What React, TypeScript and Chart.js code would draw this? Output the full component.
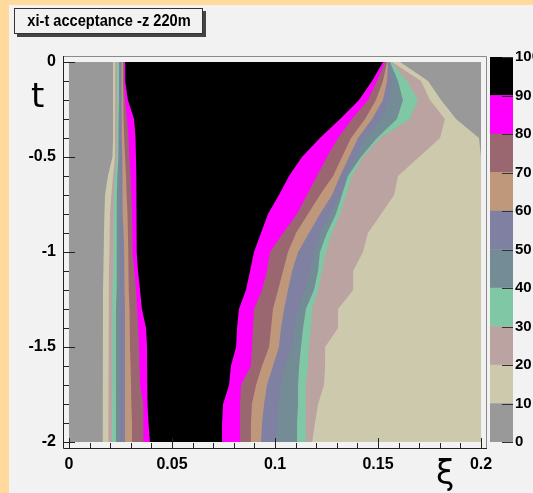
import React, { useEffect, useRef } from 'react';
import { Chart, registerables } from 'chart.js';
Chart.register(...registerables);

// ---- data ----
const tGrid = [0, -0.1, -0.2, -0.3, -0.4, -0.5, -0.6, -0.7, -0.8, -0.9, -1.0, -1.1, -1.2, -1.3, -1.4, -1.5, -1.6, -1.7, -1.8, -1.9, -2.0];

// contour levels (lower edge of each colour band) and palette
const levels = [0, 10, 20, 30, 40, 50, 60, 70, 80, 90];
const levelColors = ['#999999', '#ccc9ac', '#baa3a0', '#7fc7a5', '#738c96', '#8080a2', '#bf987b', '#9a6670', '#ff00ff', '#000000'];
const paletteTicks = [0, 10, 20, 30, 40, 50, 60, 70, 80, 90, 100];

// left / right xi boundary of the region where acceptance >= level, per t in tGrid
const left10 = [0.0214, 0.0214, 0.0214, 0.0214, 0.0214, 0.0211, 0.0189, 0.0175, 0.0172, 0.0170, 0.0167, 0.0167, 0.0165, 0.0164, 0.0164, 0.0164, 0.0164, 0.0164, 0.0164, 0.0164, 0.0164];
const right10 = [0.1607, 0.1743, 0.1806, 0.1879, 0.1990, 0.2, 0.2, 0.2, 0.2, 0.2, 0.2, 0.2, 0.2, 0.2, 0.2, 0.2, 0.2, 0.2, 0.2, 0.2, 0.2];
const left20 = [0.0223, 0.0223, 0.0223, 0.0223, 0.0223, 0.0223, 0.0214, 0.0206, 0.0199, 0.0197, 0.0196, 0.0194, 0.0192, 0.0191, 0.0191, 0.0191, 0.0191, 0.0191, 0.0191, 0.0191, 0.0191];
const right20 = [0.1568, 0.1709, 0.1752, 0.1825, 0.1801, 0.1699, 0.1597, 0.1578, 0.1515, 0.1451, 0.1427, 0.1379, 0.1379, 0.1306, 0.1306, 0.1243, 0.1243, 0.1238, 0.1209, 0.1194, 0.1180];
const left30 = [0.0233, 0.0233, 0.0233, 0.0233, 0.0233, 0.0232, 0.0223, 0.0218, 0.0216, 0.0215, 0.0215, 0.0214, 0.0211, 0.0209, 0.0209, 0.0209, 0.0209, 0.0209, 0.0209, 0.0209, 0.0209];
const right30 = [0.1563, 0.1641, 0.1694, 0.1655, 0.1510, 0.1427, 0.1374, 0.1345, 0.1316, 0.1277, 0.1248, 0.1228, 0.1209, 0.1180, 0.1175, 0.1165, 0.1160, 0.1150, 0.1150, 0.1146, 0.1146];
const left40 = [0.0243, 0.0243, 0.0243, 0.0241, 0.0240, 0.0239, 0.0235, 0.0232, 0.0232, 0.0232, 0.0232, 0.0231, 0.0230, 0.0228, 0.0228, 0.0228, 0.0228, 0.0228, 0.0228, 0.0228, 0.0228];
const right40 = [0.1558, 0.1597, 0.1621, 0.1592, 0.1495, 0.1417, 0.1354, 0.1325, 0.1296, 0.1252, 0.1218, 0.1209, 0.1189, 0.1150, 0.1136, 0.1126, 0.1117, 0.1112, 0.1112, 0.1107, 0.1107];
const left50 = [0.0248, 0.0248, 0.0248, 0.0248, 0.0248, 0.0248, 0.0248, 0.0248, 0.0248, 0.0248, 0.0248, 0.0248, 0.0248, 0.0248, 0.0248, 0.0248, 0.0248, 0.0248, 0.0248, 0.0248, 0.0248];
const right50 = [0.1553, 0.1568, 0.1553, 0.1515, 0.1437, 0.1393, 0.1345, 0.1320, 0.1267, 0.1218, 0.1189, 0.1170, 0.1146, 0.1112, 0.1092, 0.1083, 0.1049, 0.1029, 0.1015, 0.1010, 0.1005];
const left60 = [0.0255, 0.0255, 0.0256, 0.0257, 0.0257, 0.0259, 0.0259, 0.0260, 0.0262, 0.0265, 0.0268, 0.0269, 0.0270, 0.0272, 0.0272, 0.0272, 0.0272, 0.0272, 0.0272, 0.0272, 0.0272];
const right60 = [0.1549, 0.1544, 0.1524, 0.1471, 0.1403, 0.1359, 0.1316, 0.1277, 0.1218, 0.1165, 0.1112, 0.1083, 0.1063, 0.1044, 0.1029, 0.1019, 0.0990, 0.0961, 0.0947, 0.0937, 0.0932];
const left70 = [0.0262, 0.0262, 0.0264, 0.0265, 0.0268, 0.0272, 0.0277, 0.0280, 0.0284, 0.0286, 0.0288, 0.0289, 0.0291, 0.0294, 0.0296, 0.0296, 0.0299, 0.0301, 0.0303, 0.0306, 0.0306];
const right70 = [0.1544, 0.1524, 0.1490, 0.1437, 0.1369, 0.1325, 0.1282, 0.1218, 0.1160, 0.1102, 0.1063, 0.1039, 0.1015, 0.0990, 0.0981, 0.0971, 0.0937, 0.0908, 0.0888, 0.0883, 0.0883];
const left80 = [0.0267, 0.0267, 0.0272, 0.0282, 0.0289, 0.0293, 0.0299, 0.0303, 0.0306, 0.0308, 0.0309, 0.0317, 0.0325, 0.0330, 0.0336, 0.0340, 0.0342, 0.0345, 0.0361, 0.0361, 0.0361];
const right80 = [0.1534, 0.1495, 0.1451, 0.1374, 0.1306, 0.1252, 0.1204, 0.1155, 0.1107, 0.1039, 0.0976, 0.0961, 0.0937, 0.0898, 0.0893, 0.0888, 0.0883, 0.0835, 0.0830, 0.0830, 0.0830];
const left90 = [0.0273, 0.0273, 0.0286, 0.0316, 0.0323, 0.0325, 0.0327, 0.0328, 0.0329, 0.0329, 0.0329, 0.0335, 0.0345, 0.0354, 0.0374, 0.0379, 0.0379, 0.0381, 0.0383, 0.0386, 0.0393];
const right90 = [0.1524, 0.1471, 0.1408, 0.1316, 0.1218, 0.1131, 0.1068, 0.1019, 0.0966, 0.0932, 0.0898, 0.0879, 0.0859, 0.0825, 0.0816, 0.0811, 0.0786, 0.0777, 0.0748, 0.0743, 0.0743];

const leftBounds = [left10, left20, left30, left40, left50, left60, left70, left80, left90];
const rightBounds = [right10, right20, right30, right40, right50, right60, right70, right80, right90];

// histogram range and axis ticks
const xiRange = [0, 0.2];
const tRange = [-2, 0];
const xMajorTicks = [0, 0.05, 0.1, 0.15, 0.2];
const xMinorStep = 0.01;
const yMajorTicks = [0, -0.5, -1, -1.5, -2];
const yMinorStep = 0.1;

const titleText = 'xi-t acceptance -z 220m';
const xTitle = 'ξ';
const yTitle = 't';

// ---- style ----
const ORANGE = '#ffda9c';
const PAD = '#f2f2f2';
const NARROW = "'Liberation Sans Narrow', 'Arial Narrow', 'Liberation Sans', Arial, sans-serif";

const isMajor = (v: number, majors: number[]) => majors.some((m) => Math.abs(m - v) < 1e-6);
const fmt = (v: number) => (Math.abs(v) < 1e-9 ? '0' : String(parseFloat(v.toFixed(3))));

function buildPolygons() {
  const sets: any[] = [];
  // highest level first so it is painted on top
  for (let k = leftBounds.length - 1; k >= 0; k--) {
    const pts: { x: number; y: number }[] = [];
    for (let i = 0; i < tGrid.length; i++) pts.push({ x: leftBounds[k][i], y: tGrid[i] });
    for (let i = tGrid.length - 1; i >= 0; i--) pts.push({ x: rightBounds[k][i], y: tGrid[i] });
    sets.push({
      data: pts,
      showLine: true,
      fill: 'shape',
      backgroundColor: levelColors[k + 1],
      borderColor: levelColors[k + 1],
      borderWidth: 0,
      pointRadius: 0,
    });
  }
  // level 0 covers the whole histogram range
  sets.push({
    data: [
      { x: xiRange[0], y: tRange[1] },
      { x: xiRange[0], y: tRange[0] },
      { x: xiRange[1], y: tRange[0] },
      { x: xiRange[1], y: tRange[1] },
    ],
    showLine: true,
    fill: 'shape',
    backgroundColor: levelColors[0],
    borderColor: levelColors[0],
    borderWidth: 0,
    pointRadius: 0,
  });
  return sets;
}

const frameTicksPlugin = {
  id: 'frameTicks',
  afterDraw(chart: any) {
    const { ctx, chartArea: a, scales } = chart;
    ctx.save();
    ctx.lineWidth = 1;
    ctx.strokeStyle = '#8a8a8a';
    ctx.beginPath();
    ctx.moveTo(a.left, a.top + 0.5);
    ctx.lineTo(a.right - 0.5, a.top + 0.5);
    ctx.lineTo(a.right - 0.5, a.bottom);
    ctx.stroke();
    ctx.strokeStyle = '#222';
    ctx.beginPath();
    ctx.moveTo(a.left + 0.5, a.top);
    ctx.lineTo(a.left + 0.5, a.bottom - 0.5);
    ctx.lineTo(a.right, a.bottom - 0.5);
    for (const t of scales.x.ticks) {
      const px = Math.round(scales.x.getPixelForValue(t.value)) + 0.5;
      const len = isMajor(t.value, xMajorTicks) ? 11 : 6;
      ctx.moveTo(px, a.bottom);
      ctx.lineTo(px, a.bottom - len);
    }
    for (const t of scales.y.ticks) {
      const py = Math.round(scales.y.getPixelForValue(t.value)) + 0.5;
      const len = isMajor(t.value, yMajorTicks) ? 12 : 6;
      ctx.moveTo(a.left, py);
      ctx.lineTo(a.left + len, py);
    }
    ctx.stroke();
    ctx.restore();
  },
};

const paletteTicksPlugin = {
  id: 'paletteTicks',
  afterDraw(chart: any) {
    const { ctx, chartArea: a, scales } = chart;
    ctx.save();
    ctx.strokeStyle = '#333';
    ctx.lineWidth = 1;
    ctx.beginPath();
    for (const t of scales.y.ticks) {
      const py = Math.round(scales.y.getPixelForValue(t.value)) + 0.5;
      ctx.moveTo(a.right, py);
      ctx.lineTo(a.right - 11, py);
    }
    ctx.stroke();
    ctx.restore();
  },
};

export default function App() {
  const mainRef = useRef<HTMLCanvasElement>(null);
  const barRef = useRef<HTMLCanvasElement>(null);

  useEffect(() => {
    const xSpan = xiRange[1] - xiRange[0];
    const tSpan = tRange[1] - tRange[0];
    const main = new Chart(mainRef.current as HTMLCanvasElement, {
      type: 'scatter',
      data: { datasets: buildPolygons() },
      options: {
        animation: false,
        responsive: false,
        maintainAspectRatio: false,
        events: [],
        layout: { padding: { left: 0, top: 56, right: 46, bottom: 0 } },
        plugins: { legend: { display: false }, tooltip: { enabled: false } },
        elements: { point: { radius: 0 } },
        scales: {
          x: {
            type: 'linear',
            min: xiRange[0] - 0.0145 * xSpan,
            max: xiRange[1] + 0.0145 * xSpan,
            afterBuildTicks: (s: any) => {
              const n = Math.round(xSpan / xMinorStep);
              const ticks = [];
              for (let i = 0; i <= n; i++) ticks.push({ value: xiRange[0] + i * xMinorStep });
              s.ticks = ticks;
            },
            afterFit: (s: any) => {
              s.height = 44;
            },
            grid: { display: false, drawTicks: false },
            border: { display: false },
            ticks: {
              autoSkip: false,
              maxRotation: 0,
              padding: 6,
              color: '#000',
              font: { family: NARROW, size: 16, weight: 'bold' },
              callback: (v: any) => (isMajor(Number(v), xMajorTicks) ? fmt(Number(v)) : ''),
            },
          },
          y: {
            type: 'linear',
            min: tRange[0] - 0.0184 * tSpan,
            max: tRange[1] + 0.0158 * tSpan,
            afterBuildTicks: (s: any) => {
              const n = Math.round(tSpan / yMinorStep);
              const ticks = [];
              for (let i = 0; i <= n; i++) ticks.push({ value: tRange[0] + i * yMinorStep });
              s.ticks = ticks;
            },
            afterFit: (s: any) => {
              s.width = 63;
            },
            grid: { display: false, drawTicks: false },
            border: { display: false },
            ticks: {
              autoSkip: false,
              padding: 7,
              color: '#000',
              font: { family: NARROW, size: 16, weight: 'bold' },
              callback: (v: any) => (isMajor(Number(v), yMajorTicks) ? fmt(Number(v)) : ''),
            },
          },
        },
      },
      plugins: [frameTicksPlugin],
    } as any);

    const bar = new Chart(barRef.current as HTMLCanvasElement, {
      type: 'bar',
      data: {
        labels: [''],
        datasets: levels.map((lv, i) => ({
          label: String(lv),
          data: [paletteTicks[i + 1] - paletteTicks[i]],
          backgroundColor: levelColors[i],
          borderWidth: 0,
          barPercentage: 1,
          categoryPercentage: 1,
        })),
      },
      options: {
        animation: false,
        responsive: false,
        maintainAspectRatio: false,
        events: [],
        layout: { padding: { left: 2, top: 57, right: 0, bottom: 51 } },
        plugins: { legend: { display: false }, tooltip: { enabled: false } },
        scales: {
          x: { display: false, stacked: true },
          y: {
            stacked: true,
            position: 'right',
            min: paletteTicks[0],
            max: paletteTicks[paletteTicks.length - 1],
            afterBuildTicks: (s: any) => {
              s.ticks = paletteTicks.map((v) => ({ value: v }));
            },
            afterFit: (s: any) => {
              s.width = 20;
            },
            grid: { display: false, drawTicks: false },
            border: { display: false },
            ticks: {
              autoSkip: false,
              padding: 2,
              color: '#000',
              font: { family: NARROW, size: 15, weight: 'bold' },
            },
          },
        },
      },
      plugins: [paletteTicksPlugin],
    } as any);

    return () => {
      main.destroy();
      bar.destroy();
    };
  }, []);

  return (
    <div style={{ position: 'fixed', left: 0, top: 0, width: 533, height: 493, background: PAD, overflow: 'hidden' }}>
      <div style={{ position: 'absolute', left: 0, top: 0, width: 9, height: 493, background: ORANGE }} />
      <div style={{ position: 'absolute', left: 0, top: 0, width: 533, height: 5, background: ORANGE }} />
      <canvas ref={mainRef} width={533} height={493} style={{ position: 'absolute', left: 0, top: 0, width: 533, height: 493 }} />
      <canvas ref={barRef} width={45} height={493} style={{ position: 'absolute', left: 488, top: 0, width: 45, height: 493 }} />
      <div
        style={{
          position: 'absolute',
          left: 14,
          top: 8,
          width: 187,
          height: 24,
          border: '1px solid #333',
          boxShadow: '3px 3px 0 #444',
          background: PAD,
          overflow: 'hidden',
        }}
      >
        <div
          style={{
            position: 'absolute',
            left: '50%',
            top: 0,
            transform: 'translateX(-50%) scaleX(0.86)',
            fontFamily: NARROW,
            fontWeight: 'bold',
            fontSize: 17,
            lineHeight: '24px',
            color: '#000',
            whiteSpace: 'nowrap',
          }}
        >
          {titleText}
        </div>
      </div>
      <div style={{ position: 'absolute', left: 31, top: 78, fontFamily: "'DejaVu Sans', sans-serif", fontSize: 34, lineHeight: 1, color: '#000' }}>
        {yTitle}
      </div>
      <div style={{ position: 'absolute', left: 436, top: 456, fontFamily: "'DejaVu Sans', sans-serif", fontSize: 33, lineHeight: 1, color: '#000' }}>
        {xTitle}
      </div>
    </div>
  );
}
